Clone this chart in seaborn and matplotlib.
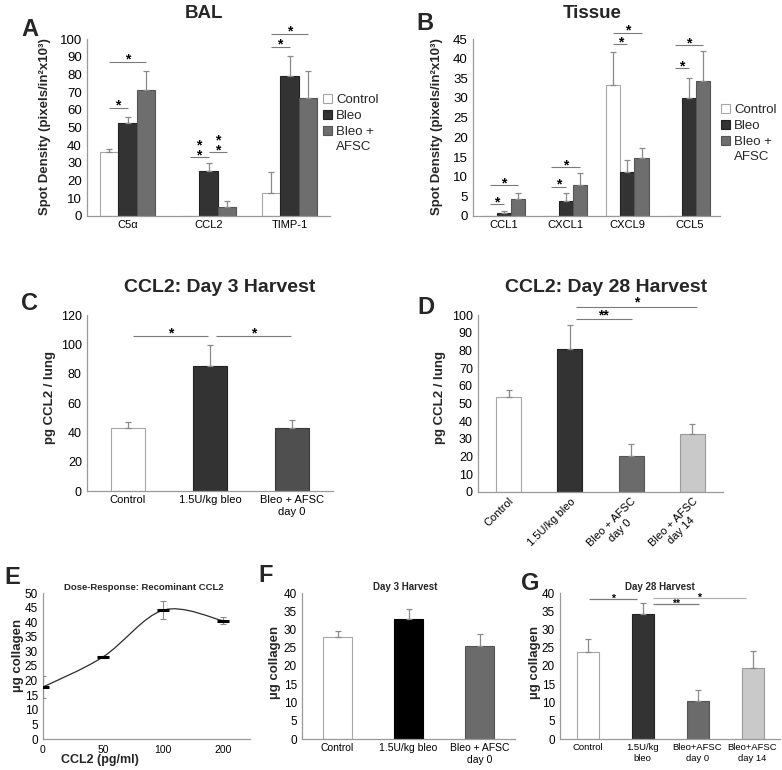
import numpy as np
import pandas as pd
import matplotlib
matplotlib.use("Agg")
import matplotlib.pyplot as plt
import seaborn as sns
from matplotlib.path import Path
from matplotlib.patches import PathPatch, Patch
from matplotlib.container import BarContainer

sns.set_style("white")
plt.rcParams['font.family'] = ['Liberation Sans', 'DejaVu Sans']

# ---------------- data ----------------
# Panel A (BAL)
a_markers = ['C5α', 'CCL2', 'TIMP-1']
ab_groups = ['Control', 'Bleo', 'Bleo +\nAFSC']
a_control = [36.0, 0.0, 12.8]
a_bleo = [52.5, 25.7, 78.9]
a_afsc = [71.0, 5.3, 66.8]
a_control_err = [1.9, 0.0, 12.2]
a_bleo_err = [3.3, 4.5, 11.7]
a_afsc_err = [11.0, 3.2, 14.9]

# Panel B (Tissue)
b_markers = ['CCL1', 'CXCL1', 'CXCL9', 'CCL5']
b_control = [0.0, 0.0, 33.3, 0.0]
b_bleo = [0.7, 3.8, 11.3, 29.9]
b_afsc = [4.3, 7.8, 14.7, 34.4]
b_control_err = [0.0, 0.0, 8.4, 0.0]
b_bleo_err = [0.6, 2.0, 2.9, 5.3]
b_afsc_err = [1.6, 3.1, 2.6, 7.6]

# Panel C (CCL2 day 3)
c_groups = ['Control', '1.5U/kg bleo', 'Bleo + AFSC\nday 0']
c_values = [42.7, 85.2, 43.0]
c_err = [4.1, 14.3, 5.4]

# Panel D (CCL2 day 28)
d_groups = ['Control', '1.5U/kg bleo', 'Bleo + AFSC\nday 0', 'Bleo + AFSC\nday 14']
d_values = [53.4, 80.9, 20.4, 32.6]
d_err = [4.5, 13.4, 6.6, 5.7]

# Panel E (dose response)
e_doses = ['0', '50', '100', '200']
e_values = [17.8, 28.1, 44.1, 40.5]
e_err = [3.8, 0.4, 3.1, 1.2]

# Panel F (collagen day 3)
f_groups = ['Control', '1.5U/kg bleo', 'Bleo + AFSC\nday 0']
f_values = [28.0, 32.8, 25.6]
f_err = [1.7, 2.7, 3.3]

# Panel G (collagen day 28)
g_groups = ['Control', '1.5U/kg\nbleo', 'Bleo+AFSC\nday 0', 'Bleo+AFSC\nday 14']
g_values = [23.7, 34.2, 10.3, 19.4]
g_err = [3.7, 3.0, 3.1, 4.7]

# significance annotations: (group, bar i, bar j, line y, stars)
a_sig = [(0, 0, 1, 61.0, '*'), (0, 0, 2, 86.8, '*'),
         (1, 0, 1, 33.4, '*\n*'), (1, 1, 2, 36.2, '*\n*'),
         (2, 0, 1, 95.5, '*'), (2, 0, 2, 102.6, '*')]
b_sig = [(0, 0, 1, 3.05, '*'), (0, 0, 2, 7.8, '*'),
         (1, 0, 1, 7.5, '*'), (1, 0, 2, 12.4, '*'),
         (2, 0, 1, 43.7, '*'), (2, 0, 2, 46.6, '*'),
         (3, 0, 1, 37.7, '*'), (3, 0, 2, 43.5, '*')]
c_sig = [(0.06, 0.98, 105.7, '*'), (1.07, 1.99, 105.7, '*')]
d_sig = [(1.1, 2.01, 97.5, '**'), (1.1, 3.08, 104.7, '*')]
g_sig = [(0.03, 0.9, 38.3, '*', '#7a7a7a'), (1.19, 2.03, 36.9, '**', '#7a7a7a'),
         (1.19, 2.88, 38.6, '*', '#b0b0b0')]

# ---------------- helpers ----------------
W, H = 782, 770
fig = plt.figure(figsize=(W / 100, H / 100), dpi=100)
fig.patch.set_facecolor('white')
AXC = '#9a9a9a'
ERRC = '#8a8a8a'


def px_axes(l, t, r, b):
    return fig.add_axes([l / W, 1 - b / H, (r - l) / W, (b - t) / H])


def style(ax, yfs, xfs, ncat=None):
    sns.despine(ax=ax)
    for s in ['left', 'bottom']:
        ax.spines[s].set_color(AXC)
        ax.spines[s].set_linewidth(0.9)
    ax.tick_params(axis='y', direction='out', length=2.5, width=0.8, color=AXC,
                   labelsize=yfs, pad=1.2, labelcolor='black')
    ax.tick_params(axis='x', which='major', length=0, labelsize=xfs, pad=3,
                   labelcolor='black')
    if ncat is not None:
        ax.set_xticks(np.arange(0.5, ncat - 1), minor=True)
        ax.tick_params(axis='x', which='minor', length=3, width=0.8, color=AXC,
                       direction='out')
        ax.set_xlim(-0.5, ncat - 0.5)
    ax.set_xlabel('')
    ax.set_ylabel('')
    ax.set_facecolor('none')


def add_err(ax, bars, errs, capsize=2.5):
    for b, e in zip(bars, errs):
        if e > 0:
            x = b.get_x() + b.get_width() / 2
            ax.errorbar([x], [b.get_height()], yerr=[[0], [e]], fmt='none',
                        ecolor=ERRC, elinewidth=0.9, capsize=capsize,
                        capthick=0.9, zorder=3)


def star(ax, x, y, s, dy_px, fs):
    if '\n' in s:
        # stacked stars: centre the pair above the line
        ax.annotate(s, (x, y), xytext=(0, (dy_px - 3.2) * 0.72),
                    textcoords='offset points', ha='center', va='center',
                    fontsize=fs, fontweight='bold', linespacing=0.62,
                    annotation_clip=False, color='black')
        return
    off = (dy_px - 0.58 * fs * 100 / 72) * 0.72
    ax.annotate(s, (x, y), xytext=(0, off), textcoords='offset points',
                ha='center', va='baseline', fontsize=fs, fontweight='bold',
                annotation_clip=False, color='black')


def sig_line(ax, x0, x1, y, color='#7a7a7a', lw=0.8):
    ax.plot([x0, x1], [y, y], color=color, lw=lw, clip_on=False,
            solid_capstyle='butt')


def grouped(ax, cats, series, errs, palette, edges):
    rows = []
    for g, vals in zip(ab_groups, series):
        for c, v in zip(cats, vals):
            rows.append({'cat': c, 'group': g, 'value': v})
    df = pd.DataFrame(rows)
    sns.barplot(data=df, x='cat', y='value', hue='group', order=cats,
                hue_order=ab_groups, palette=palette, width=0.69, gap=0,
                errorbar=None, linewidth=0.8, legend=False, ax=ax)
    bar_conts = [c for c in ax.containers if isinstance(c, BarContainer)]
    conts = []
    for i, cont in enumerate(bar_conts):
        bars = sorted(cont.patches, key=lambda p: p.get_x())
        for b in bars:
            b.set_edgecolor(edges[i])
        conts.append(bars)
    for i, bars in enumerate(conts):
        add_err(ax, bars, errs[i])
    return conts


def single(ax, cats, vals, errs, colors, edges, width):
    df = pd.DataFrame({'cat': cats, 'value': vals})
    sns.barplot(data=df, x='cat', y='value', hue='cat', order=cats,
                hue_order=cats, palette=colors, legend=False, width=width,
                errorbar=None, linewidth=0.8, ax=ax)
    bars = sorted(ax.patches, key=lambda p: p.get_x())
    for b, ec in zip(bars, edges):
        b.set_edgecolor(ec)
    add_err(ax, bars, errs)
    return bars


def center(b):
    return b.get_x() + b.get_width() / 2


ab_pal = ['#ffffff', '#333333', '#6e6e6e']
ab_edge = ['#a6a6a6', '#222222', '#555555']
legends = []


def legend(ax, x, y):
    handles = [Patch(facecolor=f, edgecolor=e, linewidth=0.8)
               for f, e in zip(ab_pal, ab_edge)]
    first_lines = [g.split('\n')[0] for g in ab_groups]
    leg = ax.legend(handles, first_lines, loc='upper left',
                    bbox_to_anchor=(x / W, 1 - y / H),
                    bbox_transform=fig.transFigure,
                    frameon=False, fontsize=9.5, handlelength=0.65,
                    handleheight=0.65, handletextpad=0.35, labelspacing=0.3,
                    borderpad=0, borderaxespad=0)
    legends.append(leg)


def ylab(text, x, y, fs=9.5):
    fig.text(x / W, 1 - y / H, text, rotation=90, ha='center', va='center',
             fontsize=fs, fontweight='bold')


def title(text, x, y, fs):
    fig.text(x / W, 1 - y / H, text, ha='center', va='center', fontsize=fs,
             fontweight='bold')


# ---------------- Panel A ----------------
axA = px_axes(87, 39, 330, 216)
barsA = grouped(axA, a_markers, [a_control, a_bleo, a_afsc],
                [a_control_err, a_bleo_err, a_afsc_err], ab_pal, ab_edge)
style(axA, 9.5, 8, ncat=3)
axA.set_ylim(0, 100)
axA.set_yticks(np.arange(0, 101, 10))
for cat, h0, h1, y, s in a_sig:
    x0, x1 = center(barsA[h0][cat]), center(barsA[h1][cat])
    sig_line(axA, x0, x1, y)
    star(axA, (x0 + x1) / 2, y, s, 9.3 if '\n' in s else 6.7, 10)
legend(axA, 323, 94)
ylab('Spot Density (pixels/in²x10³)', 45, 127)
title('BAL', 204, 13, 13.5)

# ---------------- Panel B ----------------
axB = px_axes(473, 39, 720, 216)
barsB = grouped(axB, b_markers, [b_control, b_bleo, b_afsc],
                [b_control_err, b_bleo_err, b_afsc_err], ab_pal, ab_edge)
style(axB, 9.5, 8, ncat=4)
axB.set_ylim(0, 45)
axB.set_yticks(np.arange(0, 46, 5))
for cat, h0, h1, y, s in b_sig:
    x0, x1 = center(barsB[h0][cat]), center(barsB[h1][cat])
    sig_line(axB, x0, x1, y)
    star(axB, (x0 + x1) / 2, y, s, 5.8, 10)
legend(axB, 721, 104)
ylab('Spot Density (pixels/in²x10³)', 437, 127)
title('Tissue', 592, 13, 13.5)

# ---------------- Panel C ----------------
axC = px_axes(87, 315, 333, 491)
single(axC, c_groups, c_values, c_err, ['#ffffff', '#333333', '#4f4f4f'],
       ['#a6a6a6', '#222222', '#3a3a3a'], 0.41)
style(axC, 9, 8, ncat=3)
axC.set_ylim(0, 120)
axC.set_yticks(np.arange(0, 121, 20))
for x0, x1, y, s in c_sig:
    sig_line(axC, x0, x1, y)
    star(axC, (x0 + x1) / 2, y, s, 6.7, 10)
ylab('pg CCL2 / lung', 50, 397)
title('CCL2: Day 3 Harvest', 220, 287, 14)

# ---------------- Panel D ----------------
axD = px_axes(478, 315, 723, 492)
single(axD, d_groups, d_values, d_err,
       ['#ffffff', '#333333', '#6b6b6b', '#c9c9c9'],
       ['#a6a6a6', '#222222', '#555555', '#9a9a9a'], 0.41)
style(axD, 9, 8, ncat=4)
axD.set_ylim(0, 100)
axD.set_yticks(np.arange(0, 101, 10))
for lab in axD.get_xticklabels():
    lab.set_rotation(45)
    lab.set_ha('right')
    lab.set_rotation_mode('anchor')
    lab.set_multialignment('center')
for x0, x1, y, s in d_sig:
    sig_line(axD, x0, x1, y)
    star(axD, (x0 + x1) / 2, y, s, 8.0, 10)
ylab('pg CCL2 / lung', 440, 397)
title('CCL2: Day 28 Harvest', 606, 287, 14)

# ---------------- Panel E ----------------
axE = px_axes(43, 593, 250, 739)
ex = np.arange(len(e_doses), dtype=float)
ey = np.array(e_values)
# smoothed line (Catmull-Rom converted to cubic Bezier)
pts = np.column_stack([ex, ey])
verts = [pts[0]]
codes = [Path.MOVETO]
n = len(pts)
for i in range(n - 1):
    p_prev = pts[i - 1] if i > 0 else pts[i]
    p_next2 = pts[i + 2] if i + 2 < n else pts[i + 1]
    c1 = pts[i] + (pts[i + 1] - p_prev) / 6
    c2 = pts[i + 1] - (p_next2 - pts[i]) / 6
    verts += [c1, c2, pts[i + 1]]
    codes += [Path.CURVE4] * 3
axE.add_patch(PathPatch(Path(verts, codes), facecolor='none',
                        edgecolor='#2b2b2b', lw=0.9, zorder=2))
axE.errorbar(ex, ey, yerr=e_err, fmt='none', ecolor=ERRC, elinewidth=0.8,
             capsize=2.5, capthick=0.8, zorder=3)
sns.scatterplot(x=ex, y=ey, marker='_', s=70, linewidth=2.2, color='black',
                zorder=4, ax=axE)
style(axE, 8.5, 7.5)
axE.set_xlim(0, 3.45)
axE.set_ylim(0, 50)
axE.set_yticks(np.arange(0, 51, 5))
axE.set_xticks(ex)
axE.set_xticklabels(e_doses)
axE.tick_params(axis='x', which='major', length=5, width=0.8, color=AXC,
                direction='inout', pad=2)
fig.text(100 / W, 1 - 760 / H, 'CCL2 (pg/ml)', ha='center', va='center',
         fontsize=9, fontweight='bold')
ylab('µg collagen', 18, 655, 9.5)
title('Dose-Response: Recominant CCL2', 144, 587, 6.8)

# ---------------- Panel F ----------------
axF = px_axes(302, 593, 515, 739)
single(axF, f_groups, f_values, f_err, ['#ffffff', '#000000', '#6b6b6b'],
       ['#a6a6a6', '#000000', '#555555'], 0.4)
style(axF, 8.5, 7.5, ncat=3)
axF.set_ylim(0, 40)
axF.set_yticks(np.arange(0, 41, 5))
ylab('µg collagen', 275, 662, 9.5)
title('Day 3 Harvest', 405, 587, 7)

# ---------------- Panel G ----------------
axG = px_axes(560, 593, 780, 739)
single(axG, g_groups, g_values, g_err,
       ['#ffffff', '#333333', '#6b6b6b', '#c9c9c9'],
       ['#a6a6a6', '#222222', '#555555', '#9a9a9a'], 0.4)
style(axG, 8.5, 6.8, ncat=4)
axG.set_ylim(0, 40)
axG.set_yticks(np.arange(0, 41, 5))
for x0, x1, y, s, col in g_sig:
    sig_line(axG, x0, x1, y, color=col, lw=0.9)
    star(axG, (x0 + x1) / 2, y, s, 3.8, 7.5)
ylab('µg collagen', 535, 662, 9.5)
title('Day 28 Harvest', 660, 587, 7)

# ---------------- panel letters ----------------
for letter, x, y in [('A', 30, 29), ('B', 425, 24), ('C', 29, 304),
                     ('D', 426, 307), ('E', 12, 578), ('F', 266, 575),
                     ('G', 530, 583)]:
    fig.text(x / W, 1 - y / H, letter, ha='center', va='center', fontsize=17,
             fontweight='bold')

# continuation lines of multi-line legend labels, aligned under the first line
fig.canvas.draw()
renderer = fig.canvas.get_renderer()
for leg in legends:
    for txt, full in zip(leg.get_texts(), ab_groups):
        rest = full.split('\n')[1:]
        if rest:
            bb = txt.get_window_extent(renderer)
            cy = (bb.y0 + bb.y1) / 2
            for k, line in enumerate(rest, start=1):
                fig.text(bb.x0 / W, (cy - 15 * k) / H, line, ha='left',
                         va='center', fontsize=9.5)

fig.savefig('out.png', dpi=100, facecolor='white')
